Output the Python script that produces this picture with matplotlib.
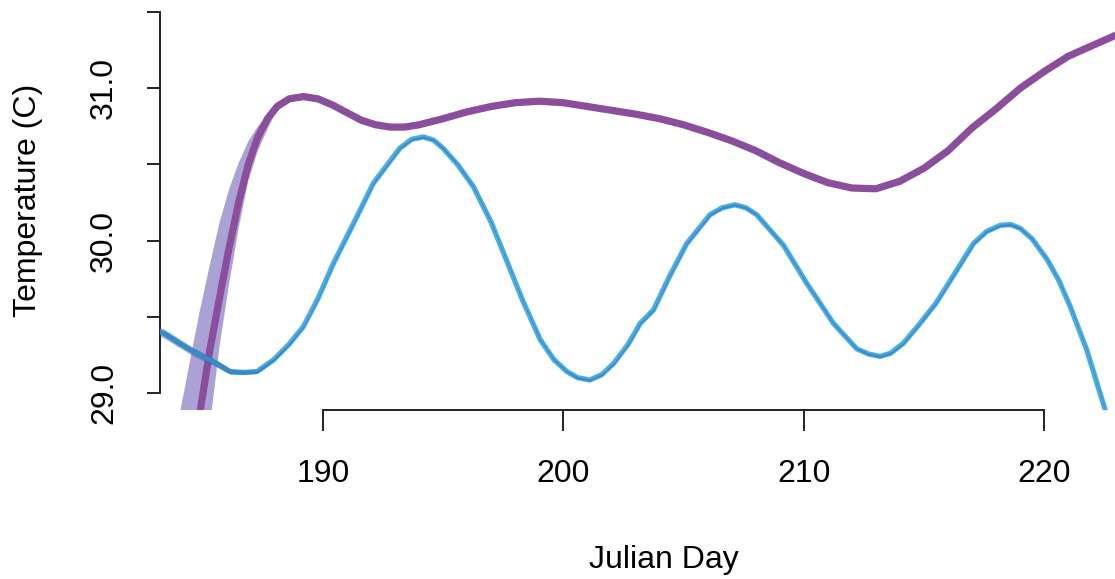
import numpy as np
import matplotlib.pyplot as plt

plt.rcParams['font.family'] = ['Liberation Sans', 'DejaVu Sans']

# purple series (smoothed temperature, with interval band)
purple_day = [184.0, 184.5, 184.9, 185.3, 185.7, 186.1, 186.5, 186.9, 187.3, 187.7, 188.1,
              188.6, 189.2, 189.8, 190.4, 191.0, 191.6, 192.2, 192.8, 193.4, 194.0,
              195.0, 196.0, 197.0, 198.0, 199.0, 200.0, 201.0, 202.0, 203.0, 204.0,
              205.0, 206.0, 207.0, 208.0, 209.0, 210.0, 211.0, 212.0, 213.0, 214.0,
              215.0, 216.0, 217.0, 218.0, 219.0, 220.0, 221.0, 222.0, 223.0]
purple_temp = [27.95, 28.45, 28.88, 29.28, 29.62, 29.95, 30.25, 30.50, 30.68, 30.80, 30.88,
               30.93, 30.945, 30.93, 30.89, 30.84, 30.79, 30.76, 30.745, 30.745, 30.76,
               30.80, 30.845, 30.88, 30.905, 30.915, 30.905, 30.88, 30.855, 30.83, 30.80,
               30.76, 30.71, 30.655, 30.59, 30.51, 30.44, 30.38, 30.345, 30.34, 30.39,
               30.475, 30.59, 30.74, 30.865, 31.00, 31.11, 31.21, 31.28, 31.35]
purple_hi = [28.82, 29.23, 29.55, 29.84, 30.115, 30.335, 30.51, 30.65, 30.75, 30.82, 30.90,
             30.95, 30.96, 30.945, 30.905, 30.855, 30.805, 30.775, 30.76, 30.76, 30.775,
             30.815, 30.86, 30.895, 30.92, 30.93, 30.92, 30.895, 30.87, 30.845, 30.815,
             30.775, 30.725, 30.67, 30.605, 30.525, 30.455, 30.395, 30.36, 30.355, 30.405,
             30.49, 30.605, 30.755, 30.88, 31.015, 31.125, 31.225, 31.295, 31.365]
purple_lo = [27.10, 27.75, 28.26, 28.78, 29.30, 29.71, 30.08, 30.39, 30.59, 30.73, 30.86,
             30.91, 30.93, 30.915, 30.875, 30.825, 30.775, 30.745, 30.73, 30.73, 30.745,
             30.785, 30.83, 30.865, 30.89, 30.90, 30.89, 30.865, 30.84, 30.815, 30.785,
             30.745, 30.695, 30.64, 30.575, 30.495, 30.425, 30.365, 30.33, 30.325, 30.375,
             30.46, 30.575, 30.725, 30.85, 30.985, 31.095, 31.195, 31.265, 31.335]

# blue series
blue_day = [183.2, 183.4, 184.0, 184.62, 185.45, 186.15, 186.7, 187.26, 187.95, 188.6,
            189.19, 189.8, 190.44, 191.3, 192.1, 193.2, 193.7, 194.18, 194.6, 195.0,
            195.6, 196.26, 197.0, 197.64, 198.3, 199.04, 199.6, 200.15, 200.6, 201.1,
            201.6, 202.1, 202.7, 203.2, 203.75, 204.4, 205.13, 206.1, 206.6, 207.14,
            207.6, 208.04, 209.15, 210.12, 211.23, 212.2, 212.7, 213.17, 213.6, 214.14,
            214.8, 215.5, 216.3, 217.05, 217.6, 218.17, 218.6, 219.0, 219.5, 220.1,
            220.6, 221.07, 221.77, 222.53, 223.0]
blue_temp = [29.40, 29.39, 29.33, 29.27, 29.205, 29.14, 29.135, 29.14, 29.217, 29.32,
             29.435, 29.62, 29.85, 30.12, 30.376, 30.606, 30.665, 30.68, 30.66, 30.606,
             30.50, 30.354, 30.12, 29.87, 29.61, 29.35, 29.22, 29.14, 29.10, 29.085,
             29.12, 29.195, 29.32, 29.457, 29.545, 29.76, 29.98, 30.17, 30.215, 30.235,
             30.215, 30.17, 29.97, 29.72, 29.457, 29.29, 29.255, 29.24, 29.26, 29.326,
             29.45, 29.59, 29.79, 29.98, 30.06, 30.10, 30.105, 30.08, 30.01, 29.88,
             29.74, 29.57, 29.28, 28.89, 28.62]
blue_halfwidth = [0.03, 0.03, 0.03, 0.028, 0.024, 0.018, 0.015, 0.012, 0.01, 0.008,
                  0.007, 0.007, 0.007, 0.007, 0.007, 0.007, 0.007, 0.007, 0.007, 0.007,
                  0.007, 0.007, 0.007, 0.007, 0.007, 0.007, 0.007, 0.007, 0.007, 0.007,
                  0.007, 0.007, 0.007, 0.007, 0.007, 0.007, 0.007, 0.007, 0.007, 0.007,
                  0.007, 0.007, 0.007, 0.007, 0.007, 0.007, 0.007, 0.007, 0.007, 0.007,
                  0.007, 0.007, 0.007, 0.007, 0.007, 0.007, 0.007, 0.007, 0.007, 0.007,
                  0.007, 0.007, 0.007, 0.007, 0.007]

x_ticks = [190, 200, 210, 220]
y_ticks = [29.0, 29.5, 30.0, 30.5, 31.0, 31.5]
y_labels = ['29.0', '', '30.0', '', '31.0', '']

W, H = 1115, 579
fig = plt.figure(figsize=(W / 100, H / 100), dpi=100)
ax = fig.add_axes([160 / W, (H - 410) / H, 955 / W, 410 / H])

ax.fill_between(purple_day, purple_lo, purple_hi, color='#aaa2d4', lw=0, zorder=1)
ax.plot(purple_day, purple_temp, color='#8a4e9c', lw=5.2, solid_capstyle='butt', zorder=2)

blue_day = np.array(blue_day)
blue_temp = np.array(blue_temp)
bw = np.array(blue_halfwidth)
ax.plot(blue_day, blue_temp, color='#4aaee4', lw=3.8, zorder=3)
ax.fill_between(blue_day, blue_temp - bw, blue_temp + bw, color='#24539c', alpha=0.4,
                lw=0, zorder=4)

ax.set_xlim(183.23, 222.94)
ax.set_ylim(28.888, 31.579)

for s in ['top', 'right']:
    ax.spines[s].set_visible(False)
ax.spines['left'].set_bounds(29.0, 31.5)
ax.spines['bottom'].set_bounds(190, 220)
for s in ['left', 'bottom']:
    ax.spines[s].set_color('#222222')
    ax.spines[s].set_linewidth(1.4)

ax.set_xticks(x_ticks)
ax.set_xticklabels([str(t) for t in x_ticks])
ax.set_yticks(y_ticks)
ax.set_yticklabels(y_labels, rotation=90, va='center')
ax.tick_params(axis='x', length=15, width=1.4, color='#222222', pad=20, labelsize=23)
ax.tick_params(axis='y', length=9.5, width=1.4, color='#222222', pad=20, labelsize=23)

fig.text(664 / W, 1 - 560 / H, 'Julian Day', ha='center', va='center', fontsize=23)
fig.text(28 / W, 1 - 200 / H, 'Temperature (C)', ha='center', va='center',
         rotation=90, fontsize=23)

fig.savefig('out.png', dpi=100)
